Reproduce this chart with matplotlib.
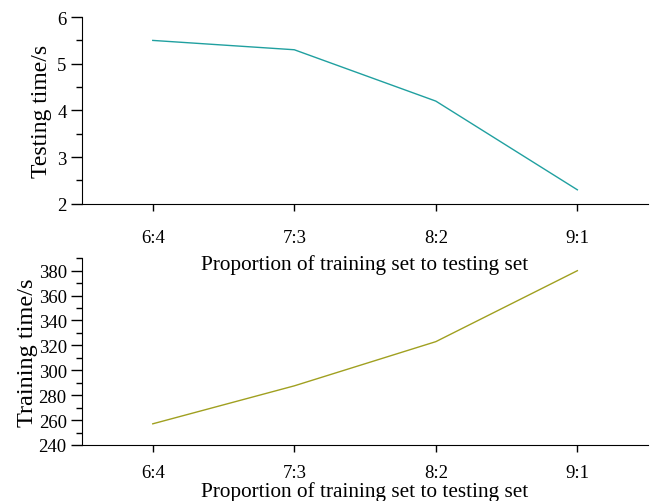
import matplotlib
matplotlib.use("Agg")
import matplotlib.pyplot as plt
from matplotlib.ticker import MultipleLocator

categories = ["6:4", "7:3", "8:2", "9:1"]
testing_time = [5.5, 5.3, 4.2, 2.3]
training_time = [257, 287.5, 323, 380]

plt.rcParams['font.family'] = ['Liberation Serif', 'DejaVu Serif']

fig = plt.figure(figsize=(6.56, 5.02), dpi=100)
ax1 = fig.add_axes([0.125, 0.592, 0.863, 0.372])
ax2 = fig.add_axes([0.125, 0.1116, 0.863, 0.372])
ax2.patch.set_visible(False)
ax1.set_zorder(3)
ax1.patch.set_visible(False)

x = list(range(len(categories)))
ax1.plot(x, testing_time, color='#20a0a0', lw=1.0)
ax2.plot(x, training_time, color='#a0a020', lw=1.0)

for ax in (ax1, ax2):
    ax.spines['top'].set_visible(False)
    ax.spines['right'].set_visible(False)
    ax.set_xlim(-0.5, 3.5)
    ax.set_xticks(x)
    ax.set_xticklabels(categories)
    ax.tick_params(axis='y', which='major', length=8, width=1, labelsize=13.5, pad=3)
    ax.tick_params(axis='y', which='minor', length=4.5, width=1)

ax1.tick_params(axis='x', which='major', length=5, width=1, labelsize=13.5, pad=13)
ax2.tick_params(axis='x', which='major', length=5, width=1, labelsize=13.5, pad=8.5)

ax1.set_xlabel("Proportion of training set to testing set", fontsize=15.3, labelpad=6)
ax2.set_xlabel("Proportion of training set to testing set", fontsize=15.3, labelpad=0)

ax1.set_ylim(2, 6)
ax1.yaxis.set_major_locator(MultipleLocator(1))
ax1.yaxis.set_minor_locator(MultipleLocator(0.5))
ax1.set_ylabel("Testing time/s", fontsize=17, labelpad=3.5)

ax2.set_ylim(240, 390)
ax2.yaxis.set_major_locator(MultipleLocator(20))
ax2.yaxis.set_minor_locator(MultipleLocator(10))
ax2.set_ylabel("Training time/s", fontsize=17.5, labelpad=0.5)

fig.savefig("out.png", dpi=100)
